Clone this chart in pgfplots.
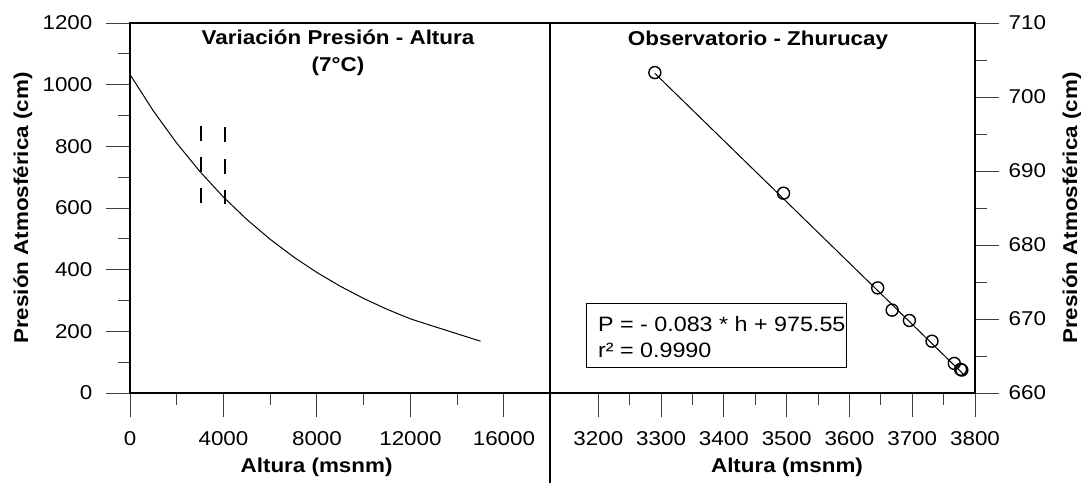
\documentclass[border=0pt,10pt]{standalone}
\usepackage{fontspec}
\setmainfont{Liberation Sans}[FakeStretch=1.12]
\usepackage{pgfplots}
\pgfplotsset{compat=1.18}
\begin{document}
\begin{tikzpicture}
\path[use as bounding box] (0,0) rectangle (540.5pt,241.5pt);
\pgfplotsset{
  common/.style={
    scale only axis, height=185pt,
    tick align=outside,
    major tick length=12pt, minor tick length=5.75pt,
    tick style={black!75, line width=0.5pt},
    axis line style={line width=0.6pt},
    /pgf/number format/assume math mode=true,
    /pgf/number format/1000 sep={},
    scaled x ticks=false, scaled y ticks=false,
    tick label style={font=\fontsize{10}{12}\selectfont, inner sep=0pt},
    xticklabel style={yshift=-7.1pt},
    clip=false,
  }
}
% left panel
\begin{axis}[common, at={(65pt,45pt)}, anchor=south west, width=210pt,
  xmin=0, xmax=17970, ymin=0, ymax=1200,
  xtick={0,4000,8000,12000,16000}, minor xtick={2000,6000,10000,14000},
  ytick={0,200,400,600,800,1000,1200}, minor ytick={100,300,500,700,900,1100},
  xtick pos=left, ytick pos=left,
  yticklabel style={xshift=-6.6pt},
]
\addplot[black, line width=0.5pt] coordinates {
(0,1033) (1000,914.8) (2000,810.2) (3000,717.5) (4000,635.4) (5000,562.7)
(6000,498.3) (7000,441.3) (8000,390.8) (9000,346.1) (10000,306.5)
(11000,271.4) (12000,240.4) (13000,216) (14000,192) (15000,168)};
\addplot[black, line width=0.9pt, dash pattern=on 7.5pt off 8.2pt] coordinates {(3025,867) (3025,615)};
\addplot[black, line width=0.9pt, dash pattern=on 7.5pt off 8.2pt] coordinates {(4065,862) (4065,612)};
\end{axis}
% right panel
\begin{axis}[common, at={(275pt,45pt)}, anchor=south west, width=212.5pt,
  xmin=3123, xmax=3800, ymin=660, ymax=710,
  xtick={3200,3300,3400,3500,3600,3700,3800}, minor xtick={3250,3350,3450,3550,3650,3750},
  ytick={660,670,680,690,700,710}, minor ytick={665,675,685,695,705},
  xtick pos=left, ytick pos=right, yticklabel pos=right,
  yticklabel style={xshift=4.6pt},
]
\addplot[black, line width=0.5pt] coordinates {(3290,703.2) (3782,662.5)};
\addplot[only marks, mark=o, mark size=3pt, mark options={line width=0.7pt, black}] coordinates {
(3290,703.3) (3495,687.0) (3645,674.2) (3668,671.2) (3695.5,669.8)
(3731.5,667.0) (3767,664.0) (3777,663.2) (3779,663.1)};
\end{axis}
% separator
\draw[line width=0.6pt] (275pt,0pt) -- (275pt,230pt);
% titles
\node[font=\bfseries, anchor=base, inner sep=0] at (169pt,219pt) {Variación Presión - Altura};
\node[font=\bfseries, anchor=base, inner sep=0] at (169pt,205.75pt) {(7°C)};
\node[font=\bfseries, anchor=base, inner sep=0] at (379pt,218.5pt) {Observatorio - Zhurucay};
% axis labels
\node[font=\bfseries, anchor=base, inner sep=0] at (158.3pt,5.25pt) {Altura (msnm)};
\node[font=\bfseries, anchor=base, inner sep=0] at (393.5pt,5.25pt) {Altura (msnm)};
\node[font=\bfseries, anchor=base, inner sep=0, rotate=90] at (14pt,137.5pt) {Presión Atmosférica (cm)};
\node[font=\bfseries, anchor=base, inner sep=0, rotate=90] at (538.5pt,137.5pt) {Presión Atmosférica (cm)};
% equation box
\draw[line width=0.5pt] (293.2pt,57.85pt) rectangle (423.35pt,89.85pt);
\node[anchor=base west, inner sep=0, font=\fontsize{10.4}{12}\selectfont] at (298.85pt,75.65pt) {P = - 0.083 * h + 975.55};
\node[anchor=base west, inner sep=0, font=\fontsize{10.4}{12}\selectfont] at (298.85pt,62.6pt) {r² = 0.9990};
\end{tikzpicture}
\end{document}
